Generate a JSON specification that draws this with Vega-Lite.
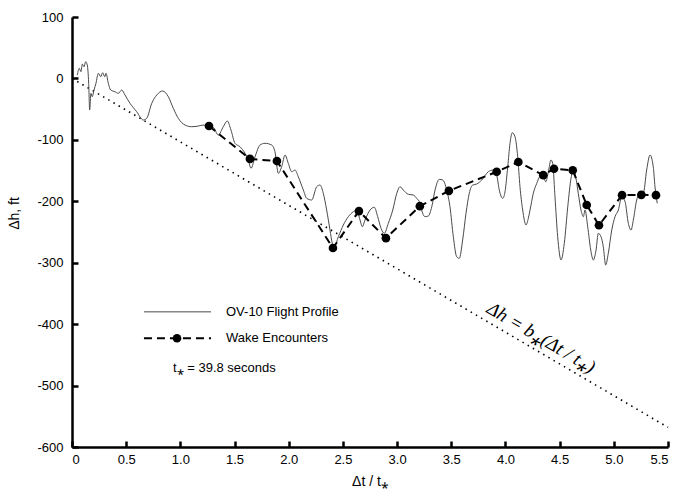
{
  "$schema": "https://vega.github.io/schema/vega-lite/v6.json",
  "autosize": {"type": "none"},
  "width": 596,
  "height": 430,
  "padding": {"left": 72, "top": 17, "right": 14, "bottom": 44},
  "background": "white",
  "config": {
    "view": {"stroke": null},
    "font": "Liberation Sans",
    "axis": {
      "grid": false,
      "domainColor": "black",
      "domainWidth": 2.5,
      "tickColor": "black",
      "tickWidth": 2.5,
      "labelColor": "black",
      "labelFont": "Liberation Sans",
      "labelFontSize": 13,
      "titleFont": "Liberation Sans",
      "titleFontSize": 14,
      "titleFontWeight": "normal",
      "titleColor": "black"
    }
  },
  "datasets": {
    "profile": [
      {"t":0.049,"h":5.5},{"t":0.067,"h":16.4},{"t":0.083,"h":10.9},{"t":0.095,"h":23.4},{"t":0.111,"h":19.0},{"t":0.126,"h":27.2},{"t":0.141,"h":21.8},{"t":0.154,"h":-8.0},{"t":0.163,"h":-51.4},{"t":0.175,"h":-24.3},{"t":0.187,"h":-29.8},{"t":0.203,"h":-18.9},{"t":0.221,"h":-8.0},{"t":0.243,"h":8.3},{"t":0.265,"h":2.8},{"t":0.283,"h":9.3},{"t":0.302,"h":2.8},{"t":0.314,"h":8.3},{"t":0.335,"h":-8.0},{"t":0.357,"h":-18.9},{"t":0.397,"h":-21.7},{"t":0.427,"h":-24.3},{"t":0.459,"h":-18.9},{"t":0.489,"h":-27.0},{"t":0.535,"h":-40.5},{"t":0.597,"h":-54.2},{"t":0.658,"h":-67.7},{"t":0.689,"h":-65.0},{"t":0.736,"h":-40.5},{"t":0.782,"h":-27.0},{"t":0.837,"h":-20.5},{"t":0.889,"h":-29.8},{"t":0.935,"h":-48.7},{"t":0.981,"h":-65.0},{"t":1.043,"h":-75.9},{"t":1.105,"h":-78.6},{"t":1.166,"h":-77.5},{"t":1.212,"h":-75.9},{"t":1.258,"h":-77.5},{"t":1.304,"h":-79.6},{"t":1.350,"h":-92.1},{"t":1.396,"h":-78.6},{"t":1.433,"h":-69.3},{"t":1.467,"h":-84.0},{"t":1.504,"h":-105.6},{"t":1.550,"h":-111.2},{"t":1.597,"h":-121.9},{"t":1.627,"h":-132.8},{"t":1.652,"h":-146.3},{"t":1.689,"h":-127.5},{"t":1.735,"h":-108.4},{"t":1.781,"h":-105.6},{"t":1.843,"h":-108.4},{"t":1.873,"h":-119.3},{"t":1.904,"h":-154.5},{"t":1.935,"h":-143.7},{"t":1.966,"h":-124.7},{"t":1.996,"h":-138.2},{"t":2.028,"h":-151.9},{"t":2.058,"h":-149.1},{"t":2.088,"h":-160.0},{"t":2.135,"h":-181.7},{"t":2.166,"h":-195.2},{"t":2.212,"h":-197.9},{"t":2.258,"h":-176.3},{"t":2.289,"h":-173.5},{"t":2.319,"h":-187.0},{"t":2.350,"h":-214.2},{"t":2.381,"h":-246.8},{"t":2.402,"h":-268.4},{"t":2.420,"h":-274.0},{"t":2.458,"h":-257.7},{"t":2.504,"h":-238.6},{"t":2.550,"h":-225.1},{"t":2.596,"h":-217.0},{"t":2.628,"h":-214.2},{"t":2.658,"h":-230.5},{"t":2.679,"h":-241.4},{"t":2.704,"h":-230.5},{"t":2.750,"h":-214.2},{"t":2.790,"h":-209.8},{"t":2.821,"h":-225.1},{"t":2.852,"h":-244.0},{"t":2.882,"h":-252.2},{"t":2.919,"h":-235.9},{"t":2.960,"h":-214.2},{"t":2.997,"h":-187.0},{"t":3.027,"h":-176.3},{"t":3.057,"h":-181.7},{"t":3.104,"h":-188.7},{"t":3.150,"h":-189.8},{"t":3.181,"h":-195.2},{"t":3.212,"h":-203.3},{"t":3.236,"h":-219.6},{"t":3.258,"h":-225.1},{"t":3.288,"h":-224.0},{"t":3.320,"h":-208.9},{"t":3.350,"h":-181.7},{"t":3.390,"h":-164.3},{"t":3.421,"h":-165.4},{"t":3.458,"h":-181.7},{"t":3.488,"h":-208.9},{"t":3.519,"h":-257.7},{"t":3.550,"h":-290.3},{"t":3.574,"h":-292.9},{"t":3.605,"h":-263.1},{"t":3.636,"h":-219.6},{"t":3.666,"h":-187.0},{"t":3.698,"h":-173.5},{"t":3.735,"h":-171.9},{"t":3.781,"h":-165.4},{"t":3.842,"h":-151.9},{"t":3.888,"h":-149.1},{"t":3.919,"h":-157.3},{"t":3.943,"h":-181.7},{"t":3.975,"h":-195.2},{"t":3.996,"h":-184.4},{"t":4.021,"h":-143.7},{"t":4.042,"h":-105.6},{"t":4.063,"h":-88.4},{"t":4.088,"h":-94.9},{"t":4.113,"h":-127.5},{"t":4.134,"h":-176.3},{"t":4.159,"h":-214.2},{"t":4.190,"h":-238.6},{"t":4.211,"h":-227.7},{"t":4.227,"h":-214.2},{"t":4.257,"h":-187.0},{"t":4.289,"h":-170.8},{"t":4.319,"h":-160.0},{"t":4.349,"h":-160.0},{"t":4.372,"h":-168.2},{"t":4.396,"h":-151.9},{"t":4.420,"h":-132.8},{"t":4.436,"h":-138.2},{"t":4.457,"h":-192.6},{"t":4.482,"h":-257.7},{"t":4.513,"h":-295.6},{"t":4.543,"h":-268.4},{"t":4.575,"h":-208.9},{"t":4.605,"h":-162.6},{"t":4.627,"h":-149.1},{"t":4.648,"h":-160.0},{"t":4.672,"h":-187.0},{"t":4.697,"h":-214.2},{"t":4.719,"h":-225.1},{"t":4.734,"h":-214.2},{"t":4.759,"h":-241.4},{"t":4.787,"h":-279.3},{"t":4.811,"h":-295.6},{"t":4.836,"h":-279.3},{"t":4.857,"h":-252.2},{"t":4.882,"h":-257.7},{"t":4.903,"h":-274.0},{"t":4.925,"h":-303.8},{"t":4.949,"h":-284.7},{"t":4.981,"h":-246.8},{"t":5.011,"h":-225.1},{"t":5.042,"h":-214.2},{"t":5.073,"h":-192.6},{"t":5.104,"h":-200.7},{"t":5.134,"h":-235.9},{"t":5.159,"h":-246.8},{"t":5.180,"h":-230.5},{"t":5.211,"h":-197.9},{"t":5.242,"h":-187.0},{"t":5.272,"h":-187.0},{"t":5.303,"h":-149.1},{"t":5.334,"h":-124.7},{"t":5.364,"h":-143.7},{"t":5.380,"h":-176.3},{"t":5.401,"h":-203.3}
    ],
    "wake": [
      {"t":1.264,"h":-77.5},{"t":1.642,"h":-131},{"t":1.891,"h":-134.5},{"t":2.408,"h":-276},{"t":2.648,"h":-216},{"t":2.897,"h":-260},{"t":3.21,"h":-208},{"t":3.478,"h":-183},{"t":3.919,"h":-152},{"t":4.119,"h":-136},{"t":4.349,"h":-157.5},{"t":4.448,"h":-147},{"t":4.621,"h":-149.5},{"t":4.75,"h":-206},{"t":4.863,"h":-239},{"t":5.076,"h":-190},{"t":5.254,"h":-189.5},{"t":5.389,"h":-190}
    ],
    "bound": [{"t":0,"h":0},{"t":5.5,"h":-568}]
  },
  "layer": [
    {
      "data": {"name": "bound"},
      "mark": {"type": "line", "color": "black", "strokeWidth": 1.6, "strokeDash": [1.5, 4.5], "strokeCap": "butt"},
      "encoding": {
        "x": {"field": "t", "type": "quantitative", "scale": {"domain": [0, 5.5], "nice": false, "zero": false},
          "axis": {"values": [0,0.5,1,1.5,2,2.5,3,3.5,4,4.5,5,5.5], "tickSize": -6, "labelExpr": "datum.value === 0 ? '0' : format(datum.value, '.1f')", "title": "Δt / t⁎", "labelPadding": 12, "titlePadding": 8}},
        "y": {"field": "h", "type": "quantitative", "scale": {"domain": [-600, 100], "nice": false, "zero": false},
          "axis": {"values": [-600,-500,-400,-300,-200,-100,0,100], "tickSize": -6, "labelExpr": "toString(datum.value)", "title": "Δh, ft", "labelPadding": 15, "titleX": -51, "titleY": 196, "titleAngle": -90, "titleAlign": "center", "titleBaseline": "bottom"}}
      }
    },
    {
      "mark": {"type": "rule", "color": "black", "strokeWidth": 2.5},
      "encoding": {"y": {"datum": 0, "type": "quantitative"}}
    },
    {
      "data": {"name": "profile"},
      "mark": {"type": "line", "color": "#4a4a4a", "strokeWidth": 1, "interpolate": "monotone"},
      "encoding": {
        "x": {"field": "t", "type": "quantitative"},
        "y": {"field": "h", "type": "quantitative"}
      }
    },
    {
      "data": {"name": "wake"},
      "mark": {"type": "line", "color": "black", "strokeWidth": 2, "strokeDash": [8, 5]},
      "encoding": {
        "x": {"field": "t", "type": "quantitative"},
        "y": {"field": "h", "type": "quantitative"}
      }
    },
    {
      "data": {"name": "wake"},
      "mark": {"type": "point", "filled": true, "color": "black", "opacity": 1, "size": 75},
      "encoding": {
        "x": {"field": "t", "type": "quantitative"},
        "y": {"field": "h", "type": "quantitative"}
      }
    },
    {
      "data": {"values": [{"t": 0.664, "t2": 1.283, "h": -380}]},
      "mark": {"type": "rule", "color": "#4a4a4a", "strokeWidth": 1},
      "encoding": {
        "x": {"field": "t", "type": "quantitative"},
        "x2": {"field": "t2"},
        "y": {"field": "h", "type": "quantitative"}
      }
    },
    {
      "data": {"values": [{"t": 0.664, "t2": 1.283, "h": -423}]},
      "mark": {"type": "rule", "color": "black", "strokeWidth": 2, "strokeDash": [8, 5]},
      "encoding": {
        "x": {"field": "t", "type": "quantitative"},
        "x2": {"field": "t2"},
        "y": {"field": "h", "type": "quantitative"}
      }
    },
    {
      "data": {"values": [{"t": 0.969, "h": -423}]},
      "mark": {"type": "point", "filled": true, "color": "black", "opacity": 1, "size": 75},
      "encoding": {
        "x": {"field": "t", "type": "quantitative"},
        "y": {"field": "h", "type": "quantitative"}
      }
    },
    {
      "data": {"values": [
        {"t": 1.421, "h": -380, "label": "OV-10 Flight Profile"},
        {"t": 1.421, "h": -423, "label": "Wake Encounters"},
        {"t": 0.932, "h": -471, "label": "t⁎ = 39.8 seconds"}
      ]},
      "mark": {"type": "text", "align": "left", "baseline": "middle", "font": "Liberation Sans", "fontSize": 13, "color": "black"},
      "encoding": {
        "x": {"field": "t", "type": "quantitative"},
        "y": {"field": "h", "type": "quantitative"},
        "text": {"field": "label"}
      }
    },
    {
      "data": {"values": [{"t": 4.33, "h": -422, "label": "Δh = b⁎(Δt / t⁎)"}]},
      "mark": {"type": "text", "align": "center", "baseline": "middle", "angle": 30.4, "font": "Liberation Serif", "fontStyle": "italic", "fontSize": 19, "color": "black"},
      "encoding": {
        "x": {"field": "t", "type": "quantitative"},
        "y": {"field": "h", "type": "quantitative"},
        "text": {"field": "label"}
      }
    }
  ]
}
